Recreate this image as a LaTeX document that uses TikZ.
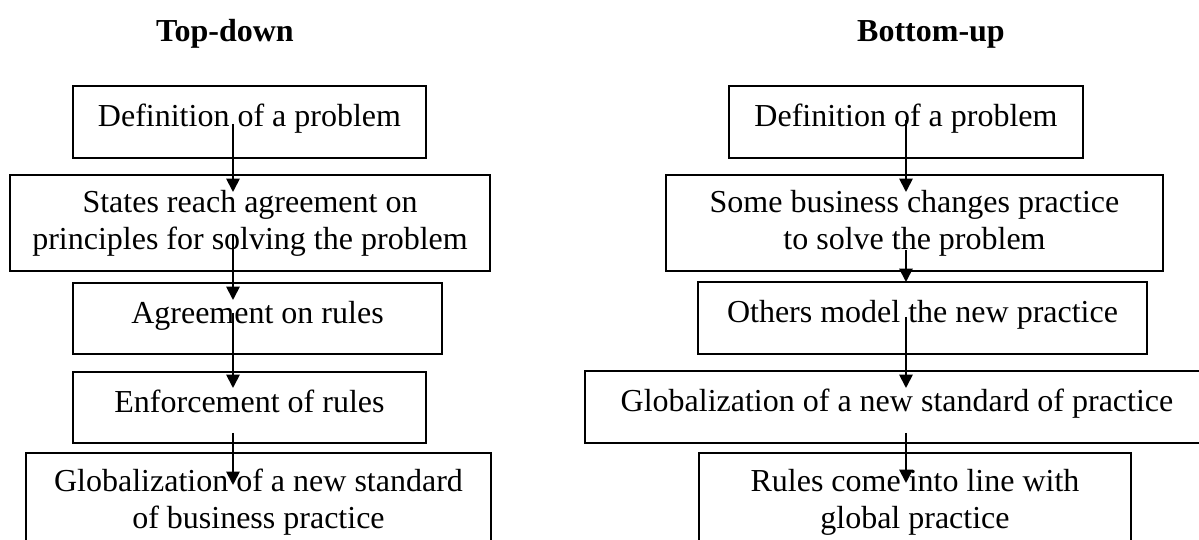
\documentclass[tikz,border=0pt]{standalone}
\usepackage{fontspec}
\setmainfont{Liberation Serif}
\usetikzlibrary{arrows.meta,calc}
\newcommand{\px}{0.375pt}

\tikzset{
  stage/.style={draw, line width=0.45pt, inner sep=0pt, outer sep=0pt, align=center,
    font=\fontsize{12}{13.9}\selectfont},
  oneline/.style={text height=8.4pt, text depth=4.8pt},
  flow/.style={-{Triangle[length=5pt,width=5pt]}, line width=0.7pt},
  heading/.style={font=\fontsize{12}{13.9}\selectfont\bfseries}
}

\begin{document}
\begin{tikzpicture}[x=\px,y=-\px]
\useasboundingbox (0,0) rectangle (1199,540);
\clip (0,0) rectangle (1199,540);

\node[heading] (tdhead) at (225,34) {Top-down};
\node[heading] (buhead) at (931,34) {Bottom-up};

% top-down chain
\node[stage,oneline,minimum width=353*\px,minimum height=72*\px] (tdA) at (249.5,122) {Definition of a problem};
\node[stage,minimum width=480*\px,minimum height=96*\px] (tdB) at (250,223) {States reach agreement on\\principles for solving the problem};
\node[stage,oneline,minimum width=369*\px,minimum height=71*\px] (tdC) at (257.5,318.5) {Agreement on rules};
\node[stage,oneline,minimum width=353*\px,minimum height=71*\px] (tdD) at (249.5,407.5) {Enforcement of rules};
\node[stage,minimum width=465*\px,minimum height=98*\px] (tdE) at (258.5,502) {Globalization of a new standard\\of business practice};

% bottom-up chain
\node[stage,oneline,minimum width=354*\px,minimum height=72*\px] (buA) at (906,122) {Definition of a problem};
\node[stage,minimum width=497*\px,minimum height=96*\px] (buB) at (914.5,223) {Some business changes practice\\to solve the problem};
\node[stage,oneline,minimum width=449*\px,minimum height=72*\px] (buC) at (922.5,318) {Others model the new practice};
\node[stage,oneline,minimum width=624*\px,minimum height=72*\px] (buD) at (897,407) {Globalization of a new standard of practice};
\node[stage,minimum width=432*\px,minimum height=98*\px] (buE) at (915,502) {Rules come into line with\\global practice};

\coordinate (tdx) at (233,0);
\coordinate (bux) at (906,0);

\foreach \a/\b/\s/\e in {tdA/tdB/34/17, tdB/tdC/36/17, tdC/tdD/41/16, tdD/tdE/10/32}
  \draw[flow] ($(\a.south -| tdx)+(0,-\s)$) -- ($(\b.north -| tdx)+(0,\e)$);
\foreach \a/\b/\s/\e in {buA/buB/38/17, buB/buC/21/0, buC/buD/37/17, buD/buE/10/30}
  \draw[flow] ($(\a.south -| bux)+(0,-\s)$) -- ($(\b.north -| bux)+(0,\e)$);
\end{tikzpicture}
\end{document}
